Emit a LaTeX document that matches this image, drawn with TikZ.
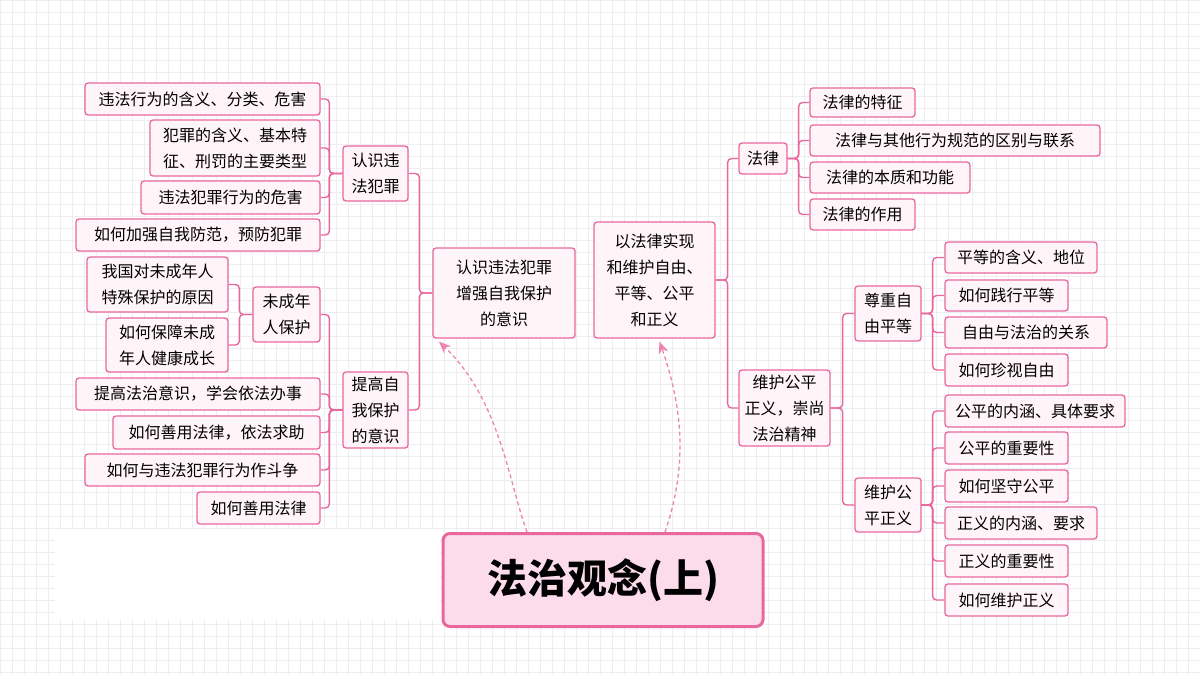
\documentclass[tikz,border=0pt]{standalone}
\usepackage{fontspec}
\newfontfamily\cjk{Noto Sans CJK SC}
\usetikzlibrary{arrows.meta}
\definecolor{pk}{HTML}{E8679E}
\definecolor{pkfill}{HTML}{FFF4F8}
\definecolor{tfill}{HTML}{FCDCEA}
\definecolor{grid}{HTML}{EEEEEE}
\tikzset{
    box/.style={draw=pk, fill=pkfill, line width=1.3pt, rounded corners=3pt, inner sep=0pt,
        align=center, font=\cjk\fontsize{16}{26}\selectfont},
    link/.style={draw=pk, line width=1.4pt, rounded corners=4pt},
    back/.style={draw=pk!80, line width=1.3pt, dashed, dash pattern=on 4pt off 3pt, -{Stealth[length=12pt,width=10pt]}}
}
% box from its corners: name, x1, y1, x2, y2, text
\newcommand{\bx}[6]{\node[box, minimum width=#4-#2, minimum height=#5-#3] (#1) at ({(#2+#4)/2},{(#3+#5)/2}) {#6};}
\begin{document}
\begin{tikzpicture}[x=1pt, y=-1pt]
			\useasboundingbox (0,0) rectangle (1200,675);
			\fill[white] (0,0) rectangle (1200,675);
			\draw[grid, line width=0.4pt, step=12pt] (0,0) grid (1200,675);
			\fill[white] (55,530) rectangle (440,620);

			% left branch
			\bx{mainL}{433}{248}{575}{338}{认识违法犯罪\\增强自我保护\\的意识}
			\bx{know}{343}{146}{408}{201}{认识违\\法犯罪}
			\bx{self}{343}{372}{408}{448}{提高自\\我保护\\的意识}
			\bx{minor}{253}{287}{320}{342}{未成年\\人保护}
			\bx{L1}{85}{83}{320}{115}{违法行为的含义、分类、危害}
			\bx{L2}{150}{120}{320}{176}{犯罪的含义、基本特\\征、刑罚的主要类型}
			\bx{L3}{141}{181}{320}{214}{违法犯罪行为的危害}
			\bx{L4}{76}{219}{320}{251}{如何加强自我防范，预防犯罪}
			\bx{M1}{87}{257}{228}{312}{我国对未成年人\\特殊保护的原因}
			\bx{M2}{106}{318}{228}{372}{如何保障未成\\年人健康成长}
			\bx{P1}{76}{378}{320}{410}{提高法治意识，学会依法办事}
			\bx{P2}{113}{416}{320}{449}{如何善用法律，依法求助}
			\bx{P3}{85}{454}{320}{486}{如何与违法犯罪行为作斗争}
			\bx{P4}{197}{492}{320}{524}{如何善用法律}

			\foreach \c in {know, self}
				\draw[link] (mainL.west) -- ++(-13,0) |- (\c.east);
			\foreach \c in {L1, L2, L3, L4}
				\draw[link] (know.west) -- ++(-13,0) |- (\c.east);
			\foreach \c in {minor, P1, P2, P3, P4}
				\draw[link] (self.west) -- ++(-13,0) |- (\c.east);
			\foreach \c in {M1, M2}
				\draw[link] (minor.west) -- ++(-13,0) |- (\c.east);

			% right branch
			\bx{mainR}{594}{222}{715}{338}{以法律实现\\和维护自由、\\平等、公平\\和正义}
			\bx{law}{739}{143}{787}{174}{法律}
			\bx{fair}{739}{370}{830}{446}{维护公平\\正义，崇尚\\法治精神}
			\bx{free}{855}{286}{921}{341}{尊重自\\由平等}
			\bx{just}{855}{478}{921}{532}{维护公\\平正义}
			\bx{R1}{810}{88}{915}{117}{法律的特征}
			\bx{R2}{810}{125}{1100}{156}{法律与其他行为规范的区别与联系}
			\bx{R3}{810}{162}{970}{193}{法律的本质和功能}
			\bx{R4}{810}{199}{915}{230}{法律的作用}
			\bx{S1}{945}{242}{1097}{273}{平等的含义、地位}
			\bx{S2}{945}{280}{1068}{311}{如何践行平等}
			\bx{S3}{945}{317}{1107}{348}{自由与法治的关系}
			\bx{S4}{945}{354}{1068}{386}{如何珍视自由}
			\bx{T1}{945}{395}{1125}{427}{公平的内涵、具体要求}
			\bx{T2}{945}{432}{1068}{464}{公平的重要性}
			\bx{T3}{945}{470}{1068}{502}{如何坚守公平}
			\bx{T4}{945}{507}{1097}{539}{正义的内涵、要求}
			\bx{T5}{945}{545}{1068}{577}{正义的重要性}
			\bx{T6}{945}{584}{1068}{616}{如何维护正义}

			\foreach \c in {law, fair}
				\draw[link] (mainR.east) -- ++(12,0) |- (\c.west);
			\foreach \c in {R1, R2, R3, R4}
				\draw[link] (law.east) -- ++(11,0) |- (\c.west);
			\foreach \c in {free, just}
				\draw[link] (fair.east) -- ++(12,0) |- (\c.west);
			\foreach \c in {S1, S2, S3, S4}
				\draw[link] (free.east) -- ++(11,0) |- (\c.west);
			\foreach \c in {T1, T2, T3, T4, T5, T6}
				\draw[link] (just.east) -- ++(11,0) |- (\c.west);

			% title
			\node[draw=pk, fill=tfill, line width=3pt, rounded corners=7pt, minimum width=320, minimum height=93,
				font=\cjk\bfseries\fontsize{40}{44}\selectfont] (title) at (603,580) {法治观念(上)};
			\coordinate (tL) at ([xshift=-76pt]title.north);
			\coordinate (tR) at ([xshift=62pt]title.north);
			\draw[back] (tL) .. controls (508,480) and (500,400) .. ([xshift=-65pt,yshift=-3pt]mainL.south);
			\draw[back] (tR) .. controls (690,460) and (680,400) .. ([xshift=5pt,yshift=-3pt]mainR.south);
\end{tikzpicture}
\end{document}
